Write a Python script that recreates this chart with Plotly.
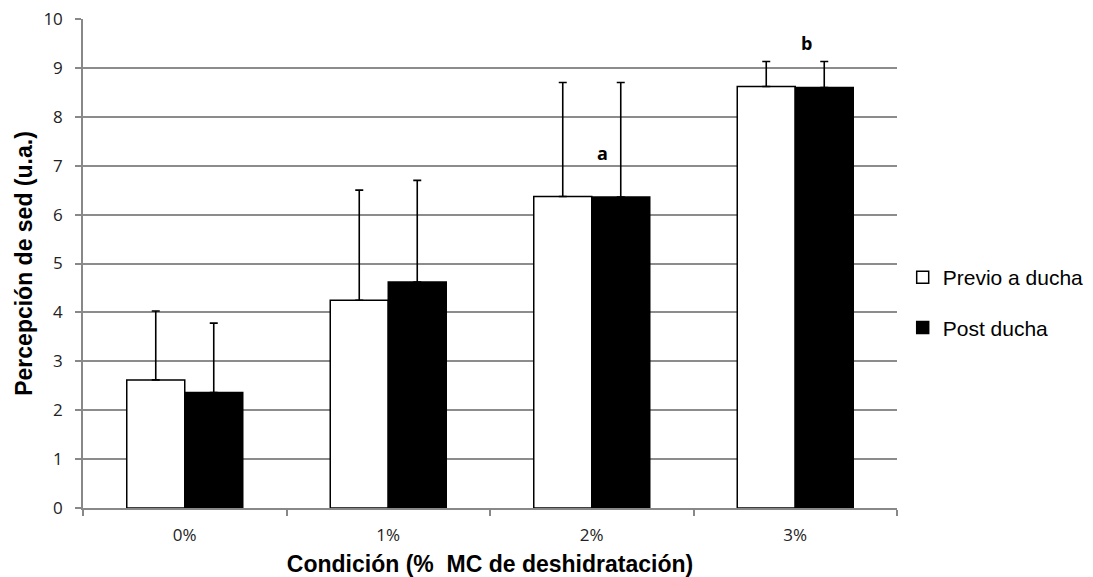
import plotly.graph_objects as go

categories = ["0%", "1%", "2%", "3%"]
previo = [2.62, 4.25, 6.37, 8.62]
previo_err = [1.41, 2.25, 2.33, 0.51]
post = [2.36, 4.62, 6.36, 8.60]
post_err = [1.42, 2.08, 2.34, 0.53]
sig_labels = ["", "", "a", "b"]
sig_y = [0, 0, 7.25, 9.5]

fig = go.Figure()
fig.add_trace(go.Bar(
    x=categories, y=previo, name="Previo a ducha", legendgroup="g1",
    marker=dict(color="white", line=dict(color="black", width=1.5)),
    error_y=dict(type="data", array=previo_err, arrayminus=[0]*4, symmetric=False,
                 color="black", thickness=1.6, width=4),
))
fig.add_trace(go.Bar(
    x=categories, y=post, name="Post ducha", legendgroup="g2",
    marker=dict(color="black", line=dict(color="black", width=1.5)),
    error_y=dict(type="data", array=post_err, arrayminus=[0]*4, symmetric=False,
                 color="black", thickness=1.6, width=4),
))

for i, (lab, yv) in enumerate(zip(sig_labels, sig_y)):
    if lab:
        fig.add_annotation(x=categories[i], y=yv, text="<b>%s</b>" % lab, showarrow=False,
                           xshift=11, font=dict(family="Open Sans", size=18, color="black"))

fig.update_layout(
    width=1093, height=577,
    margin=dict(l=83, r=196, t=19, b=69, autoexpand=False),
    paper_bgcolor="white", plot_bgcolor="white",
    barmode="group", bargap=0.43, bargroupgap=0,
    font=dict(family="Liberation Sans", color="black"),
    legend=dict(x=1.007, y=0.42, xanchor="left", yanchor="middle",
                font=dict(family="Liberation Sans", size=21, color="black"),
                tracegroupgap=20, itemwidth=30),
    showlegend=True,
)
fig.update_xaxes(
    automargin=False,
    showline=True, linecolor="#888888", linewidth=1.5,
    ticks="outside", tickson="boundaries", ticklen=6, tickcolor="#888888", tickwidth=1.5,
    ticklabelstandoff=11,
    tickfont=dict(family="Open Sans", size=17, color="#222222"),
    title=dict(text="<b>Condición (%  MC de deshidratación)</b>",
               font=dict(family="Liberation Sans", size=23, color="black"), standoff=19),
)
fig.update_yaxes(
    automargin=False,
    range=[0, 10], dtick=1, showgrid=True, gridcolor="#8c8c8c", gridwidth=1.5,
    showline=True, linecolor="#888888", linewidth=1.5,
    ticks="outside", ticklen=6, tickcolor="#888888", tickwidth=1.5,
    ticklabelstandoff=9,
    tickfont=dict(family="Open Sans", size=17, color="#222222"),
    zeroline=False,
    title=dict(text="<b>Percepción de sed (u.a.)</b>",
               font=dict(family="Liberation Sans", size=23, color="black"), standoff=4),
)

fig.write_html("out.html")
